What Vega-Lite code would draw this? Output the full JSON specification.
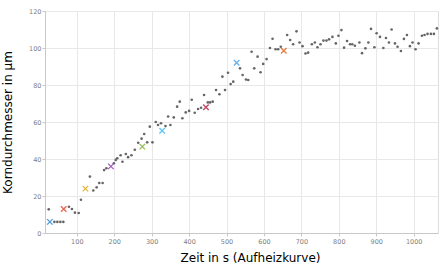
{
  "$schema": "https://vega.github.io/schema/vega-lite/v6.json",
  "width": 393,
  "height": 222,
  "autosize": {"type": "none"},
  "padding": {"left": 45, "top": 11, "right": 1, "bottom": 39},
  "background": "white",
  "config": {
    "view": {"stroke": "#dddddd", "strokeWidth": 1},
    "font": "DejaVu Sans",
    "axis": {
      "grid": true,
      "gridColor": "#e8e8e8",
      "gridWidth": 1,
      "domainColor": "#c8c8c8",
      "tickColor": "#c8c8c8",
      "tickSize": 3,
      "labelColor": "#808080",
      "labelFontSize": 6.5,
      "labelOverlap": false,
      "labelFlush": false,
      "titleFont": "DejaVu Sans",
      "titleFontWeight": "normal",
      "titleColor": "#000000",
      "titleFontSize": 12
    }
  },
  "datasets": {
    "dots": [
      {"t": 25, "d": 12.8}, {"t": 40, "d": 6}, {"t": 48, "d": 6}, {"t": 56, "d": 6}, {"t": 64, "d": 6},
      {"t": 79, "d": 14.2}, {"t": 87, "d": 13}, {"t": 95, "d": 11}, {"t": 105, "d": 10.8},
      {"t": 111, "d": 18}, {"t": 135, "d": 30.5}, {"t": 144, "d": 23}, {"t": 153, "d": 24.7},
      {"t": 160, "d": 27}, {"t": 169, "d": 27}, {"t": 173, "d": 34}, {"t": 179, "d": 35},
      {"t": 199, "d": 37.7}, {"t": 204, "d": 39.5}, {"t": 208, "d": 40.4}, {"t": 217, "d": 42},
      {"t": 222, "d": 38.5}, {"t": 231, "d": 42.7}, {"t": 237, "d": 41}, {"t": 246, "d": 42},
      {"t": 255, "d": 45}, {"t": 264, "d": 48.8}, {"t": 273, "d": 51}, {"t": 280, "d": 53.5},
      {"t": 288, "d": 49}, {"t": 295, "d": 57.5}, {"t": 302, "d": 49}, {"t": 311, "d": 60},
      {"t": 317, "d": 58.4}, {"t": 325, "d": 59.3}, {"t": 337, "d": 57.8}, {"t": 344, "d": 63},
      {"t": 350, "d": 58.4}, {"t": 359, "d": 62.5}, {"t": 368, "d": 68.3}, {"t": 375, "d": 71},
      {"t": 382, "d": 62}, {"t": 391, "d": 65.2}, {"t": 400, "d": 66}, {"t": 407, "d": 72},
      {"t": 415, "d": 65}, {"t": 424, "d": 67}, {"t": 432, "d": 67.7}, {"t": 440, "d": 74.6},
      {"t": 450, "d": 70.6}, {"t": 456, "d": 70.6}, {"t": 463, "d": 71}, {"t": 472, "d": 77.3},
      {"t": 481, "d": 75}, {"t": 489, "d": 84.5}, {"t": 496, "d": 77.3}, {"t": 504, "d": 86.6},
      {"t": 511, "d": 80.5}, {"t": 518, "d": 81.8}, {"t": 536, "d": 89}, {"t": 543, "d": 85.4},
      {"t": 552, "d": 83}, {"t": 558, "d": 82.7}, {"t": 567, "d": 98}, {"t": 574, "d": 89},
      {"t": 583, "d": 95.3}, {"t": 591, "d": 86.9}, {"t": 598, "d": 91.4}, {"t": 607, "d": 94},
      {"t": 616, "d": 100}, {"t": 623, "d": 105}, {"t": 631, "d": 99.3}, {"t": 638, "d": 99.3},
      {"t": 645, "d": 100.7}, {"t": 662, "d": 107}, {"t": 670, "d": 104.3}, {"t": 678, "d": 102},
      {"t": 687, "d": 109}, {"t": 695, "d": 103}, {"t": 703, "d": 101}, {"t": 711, "d": 97},
      {"t": 718, "d": 97.5}, {"t": 728, "d": 102}, {"t": 736, "d": 103}, {"t": 743, "d": 100.4},
      {"t": 751, "d": 102}, {"t": 759, "d": 104}, {"t": 767, "d": 104}, {"t": 774, "d": 104.7},
      {"t": 783, "d": 106}, {"t": 792, "d": 102.5}, {"t": 799, "d": 106.6}, {"t": 807, "d": 109.7},
      {"t": 814, "d": 100.2}, {"t": 822, "d": 103.8}, {"t": 830, "d": 102}, {"t": 836, "d": 102},
      {"t": 843, "d": 101.2}, {"t": 855, "d": 103}, {"t": 862, "d": 97.2}, {"t": 871, "d": 99.8},
      {"t": 879, "d": 103}, {"t": 886, "d": 110.3}, {"t": 895, "d": 100.4}, {"t": 901, "d": 108},
      {"t": 910, "d": 106}, {"t": 919, "d": 100}, {"t": 926, "d": 105.4}, {"t": 934, "d": 103},
      {"t": 941, "d": 110}, {"t": 950, "d": 102.5}, {"t": 957, "d": 100.7}, {"t": 966, "d": 98.4},
      {"t": 974, "d": 104.9}, {"t": 982, "d": 107}, {"t": 990, "d": 101}, {"t": 997, "d": 103},
      {"t": 1005, "d": 99.3}, {"t": 1013, "d": 102.5}, {"t": 1022, "d": 106.6}, {"t": 1029, "d": 107},
      {"t": 1037, "d": 107.6}, {"t": 1046, "d": 107.6}, {"t": 1054, "d": 107.6}, {"t": 1062, "d": 110.6}
    ],
    "marks": [
      {"t": 28, "d": 6, "k": "1"},
      {"t": 65, "d": 13, "k": "2"},
      {"t": 123, "d": 24, "k": "3"},
      {"t": 191, "d": 36, "k": "4"},
      {"t": 275, "d": 46.7, "k": "5"},
      {"t": 328, "d": 55.3, "k": "6"},
      {"t": 445, "d": 68, "k": "7"},
      {"t": 527, "d": 92, "k": "8"},
      {"t": 653, "d": 98.5, "k": "9"}
    ]
  },
  "encoding": {
    "x": {
      "field": "t", "type": "quantitative",
      "scale": {"domain": [15, 1065], "nice": false, "zero": false},
      "axis": {"values": [100, 200, 300, 400, 500, 600, 700, 800, 900, 1000], "format": "d", "title": "Zeit in s (Aufheizkurve)", "titlePadding": 8, "labelPadding": 2, "titleX": 205}
    },
    "y": {
      "field": "d", "type": "quantitative",
      "scale": {"domain": [0, 120], "nice": false},
      "axis": {"values": [0, 20, 40, 60, 80, 100, 120], "tickCount": 7, "labelOverlap": false, "title": "Korndurchmesser in µm", "titlePadding": 14, "labelPadding": 1}
    }
  },
  "layer": [
    {
      "data": {"name": "dots"},
      "mark": {"type": "point", "filled": true, "size": 7, "color": "#666666", "opacity": 1}
    },
    {
      "data": {"name": "marks"},
      "mark": {"type": "point", "shape": "M-1,-1L1,1M1,-1L-1,1", "size": 30, "strokeWidth": 1.3, "filled": false, "opacity": 0.9},
      "encoding": {
        "color": {
          "field": "k", "type": "nominal", "legend": null,
          "scale": {
            "domain": ["1", "2", "3", "4", "5", "6", "7", "8", "9"],
            "range": ["#3a8fdc", "#e8553a", "#e0b020", "#9a4cb8", "#88b840", "#50c0f0", "#c03050", "#5aa8e8", "#e07030"]
          }
        }
      }
    }
  ]
}
